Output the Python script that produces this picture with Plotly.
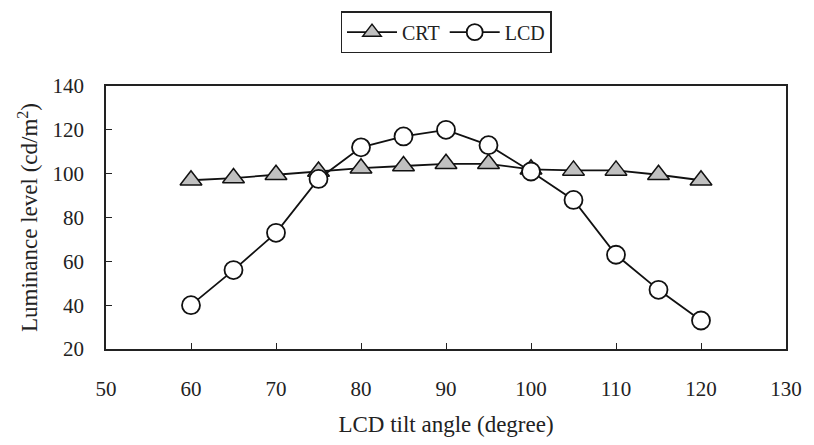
import plotly.graph_objects as go

angles = [60, 65, 70, 75, 80, 85, 90, 95, 100, 105, 110, 115, 120]
crt = [97, 98, 99.5, 101, 102.5, 103.5, 104.5, 104.5, 102, 101.5, 101.5, 99.5, 97]
lcd = [40, 56, 73, 97.6, 112, 117, 120, 113, 101, 88, 63, 47, 33]

x_ticks = [50, 60, 70, 80, 90, 100, 110, 120, 130]
y_ticks = [20, 40, 60, 80, 100, 120, 140]

font_family = "Liberation Serif, Times New Roman, serif"

fig = go.Figure()
fig.add_trace(go.Scatter(
    x=angles, y=crt, name="CRT", mode="lines+markers",
    line=dict(color="#111111", width=1.8),
    marker=dict(symbol="triangle-up", size=19, color="#c0c0c0",
                line=dict(color="#111111", width=1.5)),
))
fig.add_trace(go.Scatter(
    x=angles, y=lcd, name="LCD", mode="lines+markers",
    line=dict(color="#111111", width=1.8),
    marker=dict(symbol="circle", size=18, color="white",
                line=dict(color="#111111", width=1.8)),
))

fig.update_layout(
    width=814, height=445,
    margin=dict(l=106, r=18, t=86, b=91),
    paper_bgcolor="white", plot_bgcolor="white",
    font=dict(family=font_family, size=21, color="#222222"),
    showlegend=True,
    legend=dict(
        orientation="h", x=0.5, xanchor="center", y=0.975, yanchor="top",
        yref="container", xref="paper",
        bordercolor="#222222", borderwidth=1.5, bgcolor="white",
        font=dict(family=font_family, size=20, color="#222222"),
        itemwidth=50, tracegroupgap=0,
    ),
    xaxis=dict(
        range=[50, 130], tickvals=x_ticks, ticktext=[str(v) for v in x_ticks],
        showline=True, linecolor="#222222", linewidth=1.5, mirror=True,
        ticks="inside", ticklen=6, tickcolor="#222222", tickwidth=1.2,
        showgrid=False, zeroline=False, ticklabelstandoff=20,
        title=dict(text="LCD tilt angle (degree)", standoff=16,
                   font=dict(family=font_family, size=23)),
    ),
    yaxis=dict(
        range=[20, 140], tickvals=y_ticks, ticktext=[str(v) for v in y_ticks],
        showline=True, linecolor="#222222", linewidth=1.5, mirror=True,
        ticks="inside", ticklen=6, tickcolor="#222222", tickwidth=1.2,
        showgrid=False, zeroline=False, ticklabelstandoff=16,
        title=dict(text="Luminance level (cd/m<sup>2</sup>)", standoff=8,
                   font=dict(family=font_family, size=23)),
    ),
)

fig.write_html("out.html")
